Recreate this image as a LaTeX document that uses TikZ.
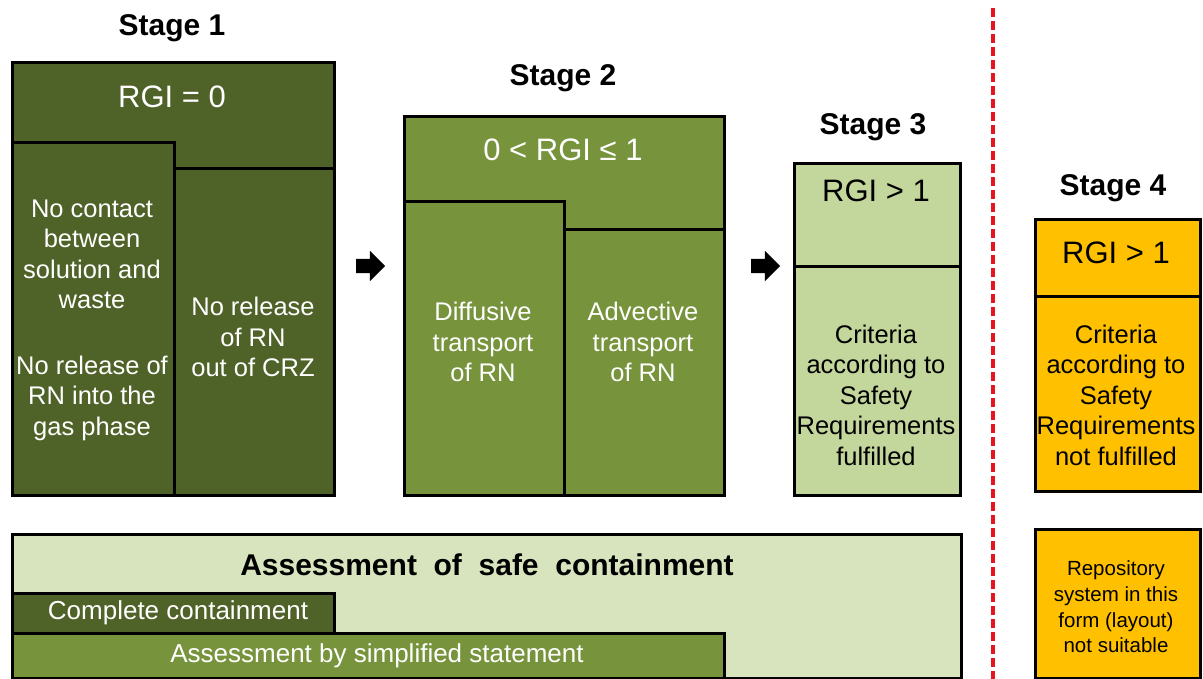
\documentclass[tikz,border=0pt]{standalone}
\usepackage{fontspec}
\setmainfont{Liberation Sans}
\usepackage{xcolor}
\definecolor{rgizero}{RGB}{79,98,40}
\definecolor{rgilow}{RGB}{119,147,60}
\definecolor{rgihigh}{RGB}{195,214,155}
\definecolor{assesslight}{RGB}{215,228,189}
\definecolor{failamber}{RGB}{255,192,0}
\definecolor{divred}{RGB}{230,20,30}
\usepackage{tikz}
\usetikzlibrary{
  arrows.meta,
  positioning,
  shapes.arrows,
  calc
}
\tikzset{
  cell/.style={draw=black, line width=2.6pt, anchor=north west,
    inner sep=0pt},
  stagetitle/.style={font=\fontsize{30}{36}\selectfont\bfseries},
  rgitext/.style={font=\fontsize{31}{37}\selectfont},
  celltext/.style={font=\fontsize{25.5}{30.5}\selectfont, align=center},
  bartext/.style={font=\fontsize{26}{31}\selectfont},
  smalltext/.style={font=\fontsize{20.5}{25.7}\selectfont, align=center},
  stagearrow/.style={single arrow, fill=black, draw=none, inner sep=7pt,
    single arrow head extend=8pt, single arrow head indent=0pt,
    minimum height=29pt},
}

\begin{document}
\begin{tikzpicture}[x=1pt, y=-1pt]
  \useasboundingbox (0,0) rectangle (1203,679);

  % Stage 1
  \node[stagetitle] (t1) at (172,28) {Stage 1};
  \node[cell, fill=rgizero, minimum width=322pt, minimum height=433pt] (s1) at (11,61) {};
  \node[cell, fill=rgizero, minimum width=162pt, minimum height=353pt] (s1a) at (11,141) {};
  \node[cell, fill=rgizero, minimum width=160pt, minimum height=327pt] (s1b) at (173,167) {};
  \node[rgitext, white] (r1) at (172,97) {RGI = 0};
  \node[celltext, white] (c1a) at (92,320) {No contact\\between\\solution and\\waste\\[35pt]No release of\\RN into the\\gas phase};
  \node[celltext, white] (c1b) at (253,337) {No release\\of RN\\out of CRZ};

  % Stage 2
  \node[stagetitle] (t2) at (563,78) {Stage 2};
  \node[cell, fill=rgilow, minimum width=320pt, minimum height=379pt] (s2) at (403,115) {};
  \node[cell, fill=rgilow, minimum width=160pt, minimum height=294pt] (s2a) at (403,200) {};
  \node[cell, fill=rgilow, minimum width=160pt, minimum height=266pt] (s2b) at (563,228) {};
  \node[rgitext, white] (r2) at (563,150) {0 < RGI ≤ 1};
  \node[celltext, white] (c2a) at (483,342) {Diffusive\\transport\\of RN};
  \node[celltext, white] (c2b) at (643,342) {Advective\\transport\\of RN};

  % Stage 3
  \node[stagetitle] (t3) at (873,127) {Stage 3};
  \node[cell, fill=rgihigh, minimum width=166pt, minimum height=103pt] (s3) at (793,162) {};
  \node[cell, fill=rgihigh, minimum width=166pt, minimum height=229pt] (s3a) at (793,265) {};
  \node[rgitext] (r3) at (876,191) {RGI > 1};
  \node[celltext] (c3a) at (876,395) {Criteria\\according to\\Safety\\Requirements\\fulfilled};

  % Stage 4
  \node[stagetitle] (t4) at (1113,188) {Stage 4};
  \node[cell, fill=failamber, minimum width=165pt, minimum height=77pt] (s4) at (1034,218) {};
  \node[cell, fill=failamber, minimum width=165pt, minimum height=195pt] (s4a) at (1034,295) {};
  \node[rgitext] (r4) at (1116,253) {RGI > 1};
  \node[celltext] (c4a) at (1116,395) {Criteria\\according to\\Safety\\Requirements\\not fulfilled};
  \node[cell, fill=failamber, minimum width=165pt, minimum height=149pt] (s4b) at (1034,528) {};
  \node[smalltext] (c4b) at (1116,607) {Repository\\system in this\\form (layout)\\not suitable};

  % Arrows between stages
  \node[stagearrow] (a12) at (367,266) {};
  \node[stagearrow] (a23) at (762,266) {};

  % Assessment bar
  \node[cell, fill=assesslight, minimum width=949pt, minimum height=144pt] (bar) at (11,533) {};
  \node[cell, fill=rgizero, minimum width=322pt, minimum height=40pt] (bar1) at (11,592) {};
  \node[cell, fill=rgilow, minimum width=712pt, minimum height=45pt] (bar2) at (11,632) {};
  \node[bartext, font=\fontsize{30}{36}\selectfont\bfseries] (bart) at (487,565) {Assessment\ \ of\ \ safe\ \ containment};
  \node[bartext, white] (bar1t) at (178,613) {Complete containment};
  \node[bartext, white] (bar2t) at (377,656) {Assessment by simplified statement};

  % Divider
  \coordinate (dtop) at (993,8);
  \coordinate (dbot) at (993,679);
  \draw[divred, line width=3.2pt, dash pattern=on 9pt off 4pt] (dtop) -- (dbot);
\end{tikzpicture}
\end{document}
